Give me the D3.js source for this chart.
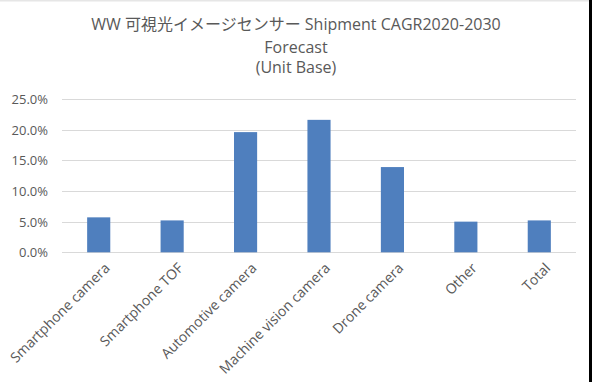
<!DOCTYPE html>
<html><head><meta charset="utf-8">
<script src="https://cdn.jsdelivr.net/npm/d3@7"></script>
<style>body{margin:0;background:#fff}svg{display:block}</style>
</head><body>
<script>
const categories = ["Smartphone camera","Smartphone TOF","Automotive camera","Machine vision camera","Drone camera","Other","Total"];
const cagrValues = [0.057,0.052,0.196,0.216,0.139,0.050,0.052];
const yTicks = [0,0.05,0.10,0.15,0.20,0.25];
const titleLines = ["WW 可視光イメージセンサー Shipment CAGR2020-2030","Forecast","(Unit Base)"];

const W=592,H=382;
const svg=d3.select("body").append("svg").attr("width",W).attr("height",H);
svg.append("rect").attr("width",W).attr("height",H).attr("fill","#fff");
const font="'Open Sans','Noto Sans CJK JP',sans-serif";

const x=d3.scaleBand().domain(categories).range([62,576]).padding(0);
const y=d3.scaleLinear().domain([0,0.25]).range([252.3,99]);
const barW=x.bandwidth()*0.315;

// gridlines
svg.append("g").selectAll("line").data(yTicks).join("line")
  .attr("x1",62).attr("x2",576).attr("y1",d=>Math.round(y(d))+0.5).attr("y2",d=>Math.round(y(d))+0.5)
  .attr("stroke","#d9d9d9").attr("stroke-width",1);

// y axis labels
const yAxis=d3.axisLeft(y).tickValues(yTicks).tickFormat(d3.format(".1%")).tickSize(0).tickPadding(0);
const gy=svg.append("g").attr("transform","translate(48,0)").call(yAxis);
gy.select(".domain").remove();
gy.selectAll("text").attr("font-family",font).attr("font-size",13).attr("fill","#595959").attr("dy","0.35em");

// bars
svg.append("g").selectAll("rect").data(categories).join("rect")
  .attr("x",(d)=>x(d)+x.bandwidth()/2-barW/2)
  .attr("width",barW)
  .attr("y",(d,i)=>y(cagrValues[i]))
  .attr("height",(d,i)=>y(0)-y(cagrValues[i]))
  .attr("fill","#4f7fbe");

// x axis labels
const xAxis=d3.axisBottom(x).tickSize(0).tickPadding(0);
const gx=svg.append("g").attr("transform","translate(0,258)").call(xAxis);
gx.select(".domain").remove();
gx.selectAll("text").attr("font-family",font).attr("font-size",14).attr("fill","#595959")
  .attr("text-anchor","end").attr("dy","0.7em")
  .attr("transform","translate(5,4) rotate(-45)");

// title
svg.append("g").selectAll("text").data(titleLines).join("text")
  .attr("x",296).attr("y",(d,i)=>[29.5,52.5,73][i])
  .attr("text-anchor","middle").attr("font-family",font).attr("font-size",16).attr("fill","#595959")
  .text(d=>d);

// frame edges
svg.append("rect").attr("x",0).attr("y",0).attr("width",589).attr("height",1.5).attr("fill","#e6e6e6");
svg.append("rect").attr("x",589).attr("y",0).attr("width",3).attr("height",H).attr("fill","#000");
</script>
</body></html>
